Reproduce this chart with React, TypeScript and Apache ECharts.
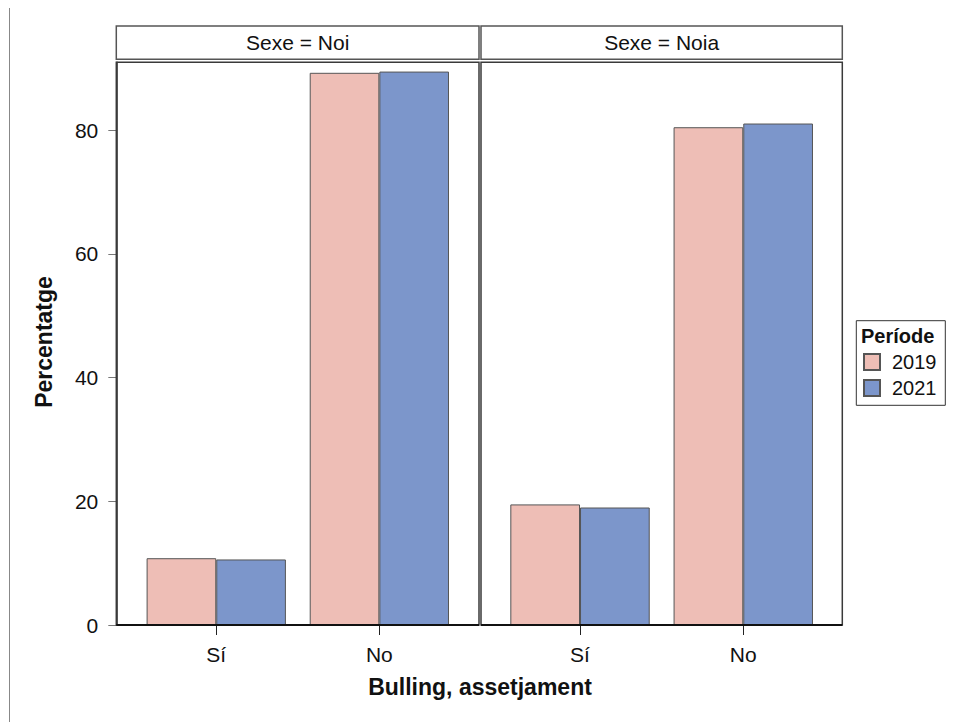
import React, { useEffect, useRef } from "react";
import * as echarts from "echarts";

const categories = ["Sí", "No"];
const panelTitles = ["Sexe = Noi", "Sexe = Noia"];
const years = ["2019", "2021"];
const noi2019 = [10.8, 89.3];
const noi2021 = [10.6, 89.5];
const noia2019 = [19.5, 80.5];
const noia2021 = [19.0, 81.1];
const yTicks = [0, 20, 40, 60, 80];
const yMax = 91;

const FONT = "'Liberation Sans', Arial, Helvetica, sans-serif";
const C2019 = "#EEBEB6";
const C2021 = "#7C96CB";

export default function App() {
  const ref = useRef<HTMLDivElement>(null);
  useEffect(() => {
    if (!ref.current) return;
    const chart = echarts.init(ref.current, undefined, { renderer: "svg" });

    const panels = [
      { frameX: 116.3, frameW: 362.7, gridL: 134.7, gridW: 326.2 },
      { frameX: 481, frameW: 361.3, gridL: 498.4, gridW: 326.5 },
    ];
    const top = 62.3;
    const bottom = 625;

    const grids = panels.map((p) => ({
      left: p.gridL,
      width: p.gridW,
      top: top,
      height: bottom - top,
      containLabel: false,
    }));

    const xAxes = panels.map((_, i) => ({
      type: "category" as const,
      gridIndex: i,
      data: categories,
      axisLine: { show: false },
      axisTick: { show: true, alignWithLabel: true, length: 10, lineStyle: { color: "#222", width: 1 } },
      axisLabel: { fontSize: 21, color: "#111", fontFamily: FONT, margin: 19 },
      splitLine: { show: false },
    }));

    const yAxes = panels.map((_, i) => ({
      type: "value" as const,
      gridIndex: i,
      min: 0,
      max: yMax,
      offset: i === 0 ? 18.4 : 0,
      show: i === 0,
      axisLine: { show: i === 0, lineStyle: { color: "#222", width: 1.5 } },
      axisTick: { show: i === 0, length: 8, customValues: yTicks, lineStyle: { color: "#777" } },
      axisLabel: {
        show: i === 0,
        customValues: yTicks,
        fontSize: 21,
        color: "#111",
        fontFamily: FONT,
        margin: 18,
      },
      splitLine: { show: false },
    }));

    const seriesData = [
      [noi2019, noi2021],
      [noia2019, noia2021],
    ];
    const colors = [C2019, C2021];
    const series: any[] = [];
    seriesData.forEach((pair, pi) => {
      pair.forEach((vals, yi) => {
        series.push({
          type: "bar",
          name: years[yi],
          xAxisIndex: pi,
          yAxisIndex: pi,
          data: vals,
          barGap: "0%",
          barCategoryGap: "14.6%",
          itemStyle: { color: colors[yi], borderColor: "#555", borderWidth: 1 },
        });
      });
    });

    const graphics: any[] = [
      {
        type: "line",
        shape: { x1: 9.5, y1: 8, x2: 9.5, y2: 722 },
        style: { stroke: "#888", lineWidth: 1 },
      },
    ];
    panels.forEach((p, i) => {
      graphics.push({
        type: "rect",
        shape: { x: p.frameX, y: top, width: p.frameW, height: bottom - top },
        style: { fill: "none", stroke: "#3a3a3a", lineWidth: 1.5 },
        z: 10,
      });
      graphics.push({
        type: "line",
        shape: { x1: p.frameX, y1: bottom, x2: p.frameX + p.frameW, y2: bottom },
        style: { stroke: "#111", lineWidth: 2 },
        z: 11,
      });
      graphics.push({
        type: "rect",
        shape: { x: p.frameX, y: 26, width: p.frameW, height: 33.3 },
        style: { fill: "#fff", stroke: "#555", lineWidth: 1.5 },
        z: 10,
      });
      graphics.push({
        type: "text",
        x: p.frameX + p.frameW / 2,
        y: 42,
        style: {
          text: panelTitles[i],
          fontSize: 21,
          fontFamily: FONT,
          fill: "#111",
          align: "center",
          verticalAlign: "middle",
        },
        z: 12,
      });
    });
    graphics.push({
      type: "text",
      x: 480,
      y: 687,
      style: {
        text: "Bulling, assetjament",
        fontSize: 23,
        fontWeight: "bold",
        fontFamily: FONT,
        fill: "#111",
        align: "center",
        verticalAlign: "middle",
      },
    });
    graphics.push({
      type: "text",
      x: 44,
      y: 342,
      rotation: Math.PI / 2,
      style: {
        text: "Percentatge",
        fontSize: 23,
        fontWeight: "bold",
        fontFamily: FONT,
        fill: "#111",
        align: "center",
        verticalAlign: "middle",
      },
    });
    graphics.push({
      type: "rect",
      shape: { x: 856.3, y: 320.7, width: 89, height: 84.6 },
      style: { fill: "none", stroke: "#333", lineWidth: 1 },
    });
    graphics.push({
      type: "text",
      x: 861,
      y: 336,
      style: {
        text: "Període",
        fontSize: 20,
        fontWeight: "bold",
        fontFamily: FONT,
        fill: "#111",
        align: "left",
        verticalAlign: "middle",
      },
    });

    chart.setOption({
      animation: false,
      backgroundColor: "#fff",
      grid: grids,
      xAxis: xAxes,
      yAxis: yAxes,
      series,
      legend: {
        data: years,
        orient: "vertical",
        left: 863,
        top: 352,
        padding: 0,
        itemWidth: 16,
        itemHeight: 16,
        itemGap: 6,
        icon: "rect",
        textStyle: { fontSize: 20, color: "#111", fontFamily: FONT, padding: [0, 0, 0, 7] },
      },
      graphic: graphics,
    });
    return () => chart.dispose();
  }, []);
  return <div ref={ref} style={{ width: 954, height: 722, position: "absolute", left: 0, top: 0 }} />;
}
